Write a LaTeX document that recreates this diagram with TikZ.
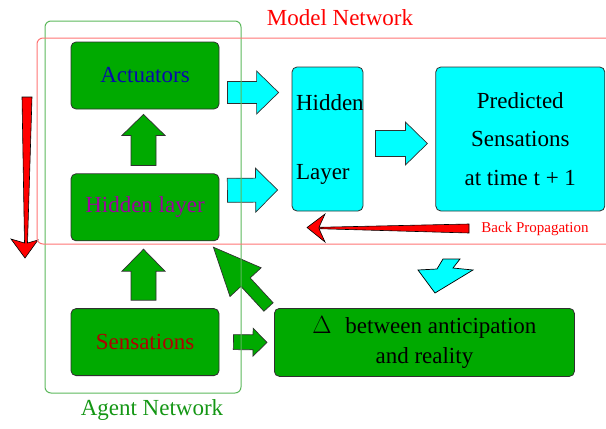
\documentclass[tikz,border=0pt]{standalone}
\usepackage{fontspec}
\setmainfont{Liberation Serif}
\usepackage{tikz}
\usetikzlibrary{positioning,calc}
\definecolor{agfill}{HTML}{00AA00}
\definecolor{mdfill}{HTML}{00FFFF}
\definecolor{agframe}{HTML}{5CB85C}
\definecolor{mdframe}{HTML}{FF7575}
\definecolor{agtext}{HTML}{149614}
\definecolor{acblue}{HTML}{0A0AAA}
\definecolor{hdpurple}{HTML}{A000A0}
\definecolor{snred}{HTML}{B00000}
\definecolor{edge}{HTML}{303030}
\newcommand{\bodyfont}{\fontsize{23pt}{27pt}\selectfont}
\newcommand{\notefont}{\fontsize{15pt}{18pt}\selectfont}

\begin{document}
\begin{tikzpicture}[x=1pt, y=-1pt,
  node distance=64pt,
  box/.style={draw=edge, line width=0.8pt, rounded corners=5pt, minimum width=148pt, minimum height=67pt, inner sep=3pt, align=center, font=\bodyfont},
  gbox/.style={box, fill=agfill},
  cbox/.style={box, fill=mdfill},
  frame/.style={line width=1pt, rounded corners=6pt},
  % block arrow: shaft half width / head half width / head length
  fat/.style n args={3}{draw=edge, line width=0.7pt, to path={
    ($(\tikztostart)!#1!90:(\tikztotarget)$)
    -- ($(\tikztotarget)!#3!(\tikztostart)!#1!90:(\tikztotarget)$)
    -- ($(\tikztotarget)!#3!(\tikztostart)!#2!90:(\tikztotarget)$)
    -- (\tikztotarget)
    -- ($(\tikztotarget)!#3!(\tikztostart)!#2!-90:(\tikztotarget)$)
    -- ($(\tikztotarget)!#3!(\tikztostart)!#1!-90:(\tikztotarget)$)
    -- ($(\tikztostart)!#1!-90:(\tikztotarget)$)
    -- cycle}},
  taper/.style={draw=black, line width=0.6pt, fill=red, line join=miter}
]
\clip (0,0) rectangle (606,429);

% agent side
\node[gbox, text=acblue] (act) at (145,75.5) {Actuators};
\node[gbox, text=hdpurple, below=of act] (hid) {Hidden layer};
\node[gbox, text=snred, below=67pt of hid] (sen) {Sensations};

% model side
\node[cbox, minimum width=71pt, minimum height=144pt, text width=63pt, inner xsep=4pt, align=left] (hl) at (327.5,139) {Hidden\\[42pt]Layer};
\node[cbox, minimum width=169pt, minimum height=144pt, right=72pt of hl] (pred) {Predicted\\[11.5pt]Sensations\\[11.5pt]at time t + 1};
\node[gbox, minimum width=300pt, minimum height=68pt, anchor=north west] (delta) at (274,308) {$\Delta$\hspace{.6em}between anticipation\\[3pt]and reality};

% block arrows
\draw[fat={11pt}{21.5pt}{22pt}, fill=mdfill] ($(act.east)+(8,17)$) to ($(hl.west)+(-13,-46.5)$);
\draw[fat={12pt}{22pt}{22pt}, fill=mdfill] ($(hid.east)+(8,-17)$) to ($(hl.west)+(-14,51)$);
\draw[fat={13pt}{21.5pt}{22pt}, fill=mdfill] ($(hl.east)+(12,4.5)$) to ($(pred.west)+(-8,4.5)$);
\draw[fat={12.5pt}{21.5pt}{21pt}, fill=agfill] ($(hid.north)+(-1.5,-8)$) to ($(act.south)+(-1.5,5)$);
\draw[fat={12.5pt}{21.5pt}{22pt}, fill=agfill] ($(sen.north)+(-1.5,-8)$) to ($(hid.south)+(-1.5,8)$);
\draw[fat={7.5pt}{14pt}{14pt}, fill=agfill] ($(sen.east)+(14,0)$) to ($(delta.west)+(-7,0)$);
\draw[fat={6.25pt}{21.2pt}{47.5pt}, fill=agfill] ($(delta.north west)+(-5.5,-1)$) to ($(hid.south east)+(-6,6)$);

% zigzag down to the error box
\draw[draw=black, line width=0.7pt, fill=mdfill] (443,259) -- (460,259) -- (453,268) -- (473,270)
  -- (435,293) -- (418,270) -- (437,269) -- cycle;

% tapered red arrows
\draw[taper] (469,224) -- (319,227.3) -- (325,214) -- (307,227.5) -- (325,242) -- (319,228.7) -- (469,233) -- cycle;
\draw[taper] (22,97) -- (24.5,243) -- (11,239) -- (25,258) -- (38,240) -- (27.5,243) -- (32,97) -- cycle;

% network frames
\draw[frame, agframe] (45,21) rectangle (241,393);
\draw[frame, mdframe] (37,38) rectangle (660,244);

\node[font=\bodyfont, text=red, anchor=base] (mdlbl) at (340,25) {Model Network};
\node[font=\bodyfont, text=agtext, anchor=base] (aglbl) at (152,415) {Agent Network};
\node[font=\notefont, text=red, anchor=base] (bplbl) at (535,232) {Back Propagation};
\end{tikzpicture}
\end{document}
